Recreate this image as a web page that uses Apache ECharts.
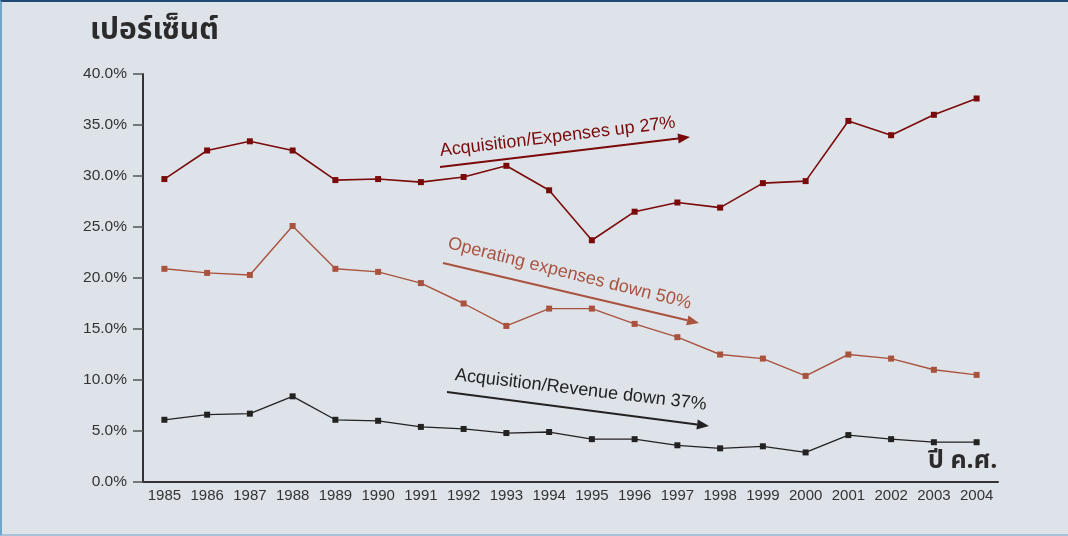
<!DOCTYPE html>
<html>
<head>
<meta charset="utf-8">
<script src="https://cdn.jsdelivr.net/npm/echarts@6/dist/echarts.min.js"></script>
<style>
html,body{margin:0;padding:0;background:#dee3ea;}
#wrap{position:absolute;left:0;top:0;width:1068px;height:536px;box-sizing:border-box;border-top:2px solid #1f4a75;border-left:2px solid #6fa7c6;border-bottom:2px solid #a9c3d6;background:#dee3ea;}
#chart{width:1066px;height:532px;}
</style>
</head>
<body>
<div id="wrap"><div id="chart"></div></div>
<script>
const years = ['1985','1986','1987','1988','1989','1990','1991','1992','1993','1994','1995','1996','1997','1998','1999','2000','2001','2002','2003','2004'];
const acqExpenses = [29.7,32.5,33.4,32.5,29.6,29.7,29.4,29.9,31.0,28.6,23.7,26.5,27.4,26.9,29.3,29.5,35.4,34.0,36.0,37.6];
const opExpenses = [20.9,20.5,20.3,25.1,20.9,20.6,19.5,17.5,15.3,17.0,17.0,15.5,14.2,12.5,12.1,10.4,12.5,12.1,11.0,10.5];
const acqRevenue = [6.1,6.6,6.7,8.4,6.1,6.0,5.4,5.2,4.8,4.9,4.2,4.2,3.6,3.3,3.5,2.9,4.6,4.2,3.9,3.9];
const yTicks = [0,5,10,15,20,25,30,35,40];

const C1 = '#7a0a0a', C2 = '#a9533e', C3 = '#222222';
const FONT = '"Liberation Sans", Arial, sans-serif';
const THAI = '"Noto Sans Thai", "Noto Sans", "DejaVu Sans", sans-serif';

function arrow(x1,y1,x2,y2,color){
  const a = Math.atan2(y2-y1,x2-x1), L=12, W=5;
  const bx = x2 - L*Math.cos(a), by = y2 - L*Math.sin(a);
  const px = -Math.sin(a)*W, py = Math.cos(a)*W;
  return [
    {type:'line',shape:{x1:x1,y1:y1,x2:bx,y2:by},style:{stroke:color,lineWidth:2}},
    {type:'polygon',shape:{points:[[x2,y2],[bx+px,by+py],[bx-px,by-py]]},style:{fill:color}}
  ];
}
function label(x,y,rot,text,color){
  return {type:'text',x:x,y:y,rotation:rot,style:{text:text,fill:color,font:'18px '+FONT,align:'left',verticalAlign:'bottom'}};
}

const chart = echarts.init(document.getElementById('chart'));
const sym = {symbol:'rect',symbolSize:6};
chart.setOption({
  backgroundColor:'#dee3ea',
  animation:false,
  grid:{left:141,right:70,top:72,bottom:52},
  xAxis:{type:'category',data:years,boundaryGap:true,
    axisLine:{lineStyle:{color:'#333',width:2}},
    axisTick:{length:9,lineStyle:{color:'#333',width:1.5}},
    axisLabel:{color:'#333',fontSize:15,fontFamily:FONT,margin:6,interval:0}},
  yAxis:{type:'value',min:0,max:40,interval:5,
    axisLine:{show:true,lineStyle:{color:'#333',width:2}},
    axisTick:{show:true,length:10,lineStyle:{color:'#555',width:1.5}},
    splitLine:{show:false},
    axisLabel:{color:'#333',fontSize:15.5,fontFamily:FONT,margin:16,formatter:v=>v.toFixed(1)+'%'}},
  series:[
    Object.assign({type:'line',data:acqExpenses,lineStyle:{color:C1,width:1.6},itemStyle:{color:C1}},sym),
    Object.assign({type:'line',data:opExpenses,lineStyle:{color:C2,width:1.4},itemStyle:{color:C2}},sym),
    Object.assign({type:'line',data:acqRevenue,lineStyle:{color:C3,width:1.3},itemStyle:{color:C3}},sym)
  ],
  graphic:[
    {type:'text',left:88,top:16,style:{text:'เปอร์เซ็นต์',fill:'#2b2b2b',font:'bold 30px '+THAI}},
    {type:'text',left:926,top:448,style:{text:'ปี ค.ศ.',fill:'#2b2b2b',font:'bold 25px '+THAI}},
    ...arrow(438,165,688,135,C1),
    ...arrow(441,261,697,321,C2),
    ...arrow(445,390,707,424,C3),
    label(439,158,0.12,'Acquisition/Expenses up 27%',C1),
    label(444,250,-0.245,'Operating expenses down 50%',C2),
    label(452,382,-0.118,'Acquisition/Revenue down 37%',C3)
  ]
});
</script>
</body>
</html>
